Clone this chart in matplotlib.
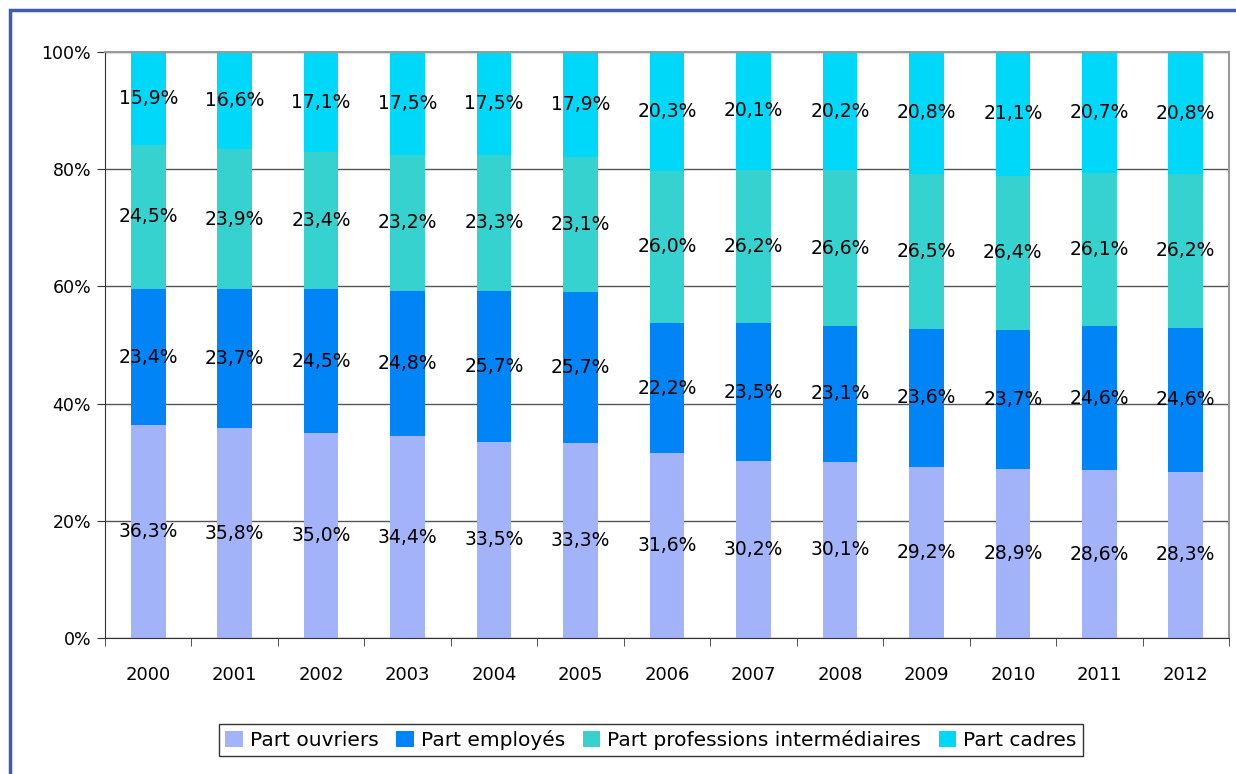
import matplotlib.pyplot as plt
import numpy as np
from matplotlib.patches import Rectangle

# data
years = ['2000', '2001', '2002', '2003', '2004', '2005', '2006',
         '2007', '2008', '2009', '2010', '2011', '2012']
ouvriers = [36.3, 35.8, 35.0, 34.4, 33.5, 33.3, 31.6, 30.2, 30.1, 29.2, 28.9, 28.6, 28.3]
employes = [23.4, 23.7, 24.5, 24.8, 25.7, 25.7, 22.2, 23.5, 23.1, 23.6, 23.7, 24.6, 24.6]
intermed = [24.5, 23.9, 23.4, 23.2, 23.3, 23.1, 26.0, 26.2, 26.6, 26.5, 26.4, 26.1, 26.2]
cadres = [15.9, 16.6, 17.1, 17.5, 17.5, 17.9, 20.3, 20.1, 20.2, 20.8, 21.1, 20.7, 20.8]

series = [ouvriers, employes, intermed, cadres]
names = ['Part ouvriers', 'Part employés', 'Part professions intermédiaires', 'Part cadres']
colors = ['#A3B3F9', '#0084F6', '#36D2D0', '#00D8FA']

plt.rcParams['font.family'] = ['DejaVu Sans']

fig = plt.figure(figsize=(12.36, 7.74), dpi=100)
ax = fig.add_axes([105/1236, 1-638/774, 1124/1236, 586/774])

# blue frame around the chart
fig.patches.append(Rectangle((10/1236, -0.05), 1.1, 1-10/774+0.05, transform=fig.transFigure,
                             fill=False, edgecolor='#3F5BB5', linewidth=2.5))

x = np.arange(len(years))
data = np.array(series)
totals = data.sum(axis=0)
pct = data / totals * 100

bottom = np.zeros(len(years))
for vals, raw, name, col in zip(pct, data, names, colors):
    ax.bar(x, vals, 0.4, bottom=bottom, color=col, label=name, zorder=2)
    for xi, b, v, r in zip(x, bottom, vals, raw):
        ax.text(xi, b + v/2, ('%.1f%%' % r).replace('.', ','), ha='center', va='center',
                fontsize=13.5, color='black', zorder=3)
    bottom = bottom + vals

ax.set_xlim(-0.5, len(years) - 0.5)
ax.set_ylim(0, 100)
ax.set_yticks([0, 20, 40, 60, 80, 100])
ax.set_yticklabels(['0%', '20%', '40%', '60%', '80%', '100%'], fontsize=12.5)
ax.yaxis.grid(True, color='#555555', linewidth=1, zorder=0)
ax.set_axisbelow(True)

ax.set_xticks(x)
ax.set_xticklabels(years, fontsize=13)
ax.tick_params(axis='x', which='major', length=0, pad=20)
ax.set_xticks(np.arange(-0.5, len(years)), minor=True)
ax.tick_params(axis='x', which='minor', length=6, color='#333333')
ax.tick_params(axis='y', length=6, color='#333333', pad=4)

ax.spines['left'].set_color('#333333')
ax.spines['bottom'].set_color('#333333')
ax.spines['top'].set_color('#999999')
ax.spines['right'].set_color('#999999')
ax.spines['top'].set_linewidth(1.5)
ax.spines['right'].set_linewidth(1.5)

leg = fig.legend(loc='center', bbox_to_anchor=(651/1236, 1-740/774), ncol=4, fontsize=14.5,
                 frameon=True, fancybox=False, edgecolor='black', handlelength=0.85,
                 handleheight=0.85, handletextpad=0.35, columnspacing=0.9, borderpad=0.3)
leg.get_frame().set_linewidth(1)

fig.savefig('out.png', dpi=100)
